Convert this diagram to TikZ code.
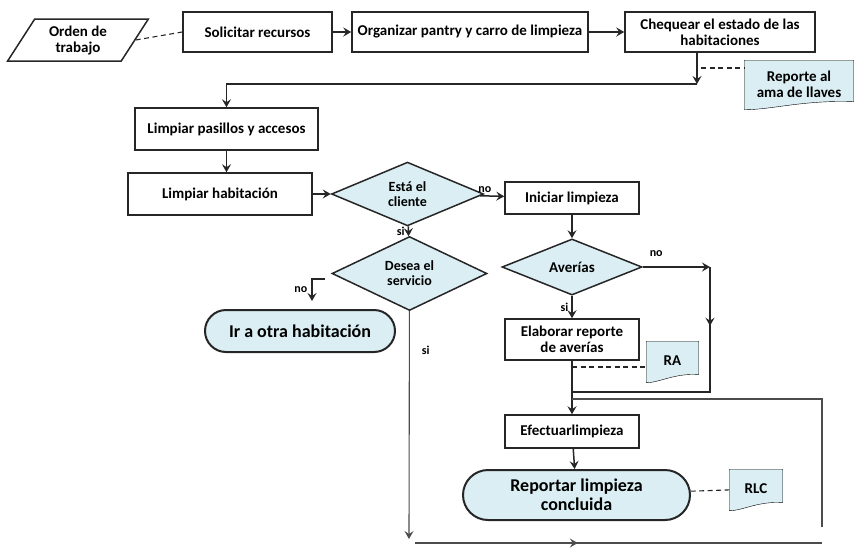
\documentclass[tikz,border=0pt]{standalone}
\usepackage{fontspec}
\setmainfont{Carlito}
\usetikzlibrary{arrows.meta, calc, shapes.geometric, shapes.misc, backgrounds}
\definecolor{aqua}{HTML}{DAEEF3}

\begin{document}
\begin{tikzpicture}[x=1pt, y=-1pt, >={Stealth[length=8pt, width=9pt, inset=3pt]},
    line width=1.5pt, draw=black!85,
    every node/.style={font=\bfseries\fontsize{15}{16}\selectfont, align=center, inner sep=0pt},
    box/.style={draw, rectangle, minimum height=40},
    cond/.style={draw, diamond, fill=aqua, minimum width=152, minimum height=56},
    term/.style={draw, rounded rectangle, fill=aqua, line width=2pt, minimum height=42},
    docu/.style={minimum width=#1},
    lbl/.style={font=\bfseries\fontsize{12}{13}\selectfont},
    dsh/.style={line width=1.1pt, dash pattern=on 5pt off 3.5pt},
    thin line/.style={line width=1.1pt, draw=black!70}]
    \useasboundingbox (0,0) rectangle (855,547);

    \node[draw, trapezium, trapezium left angle=58, trapezium right angle=122, trapezium stretches=true,
          minimum width=141, minimum height=42] (orden) at (78,40) {Orden de\\trabajo};
    \node[box, minimum width=149] (solic) at (257.5,32) {Solicitar recursos};
    \node[box, minimum width=236] (organ) at (470,32) {Organizar pantry y carro de limpieza};
    \node[box, minimum width=190] (cheq) at (720,32) {Chequear el estado de las\\habitaciones};
    \node[docu=108, minimum height=46] (rep) at (799,84) {Reporte al\\ama de llaves};

    \node[box, minimum width=183, minimum height=42] (pasil) at (226.5,129) {Limpiar pasillos y accesos};
    \node[box, minimum width=184, minimum height=42] (habit) at (220,194) {Limpiar habitación};
    \node[cond, font=\bfseries\fontsize{14}{15}\selectfont] (esta) at (407.5,194) {Está el\\cliente};
    \node[box, minimum width=134, minimum height=32] (inic) at (572,198) {Iniciar limpieza};
    \node[cond, minimum width=140] (aver) at (572,267) {Averías};
    \node[box, minimum width=134, minimum height=41] (elab) at (572,339.5) {Elaborar reporte\\de averías};
    \node[docu=51, minimum height=38] (ra) at (672.5,361) {RA};
    \node[cond, minimum width=155, font=\bfseries\fontsize{14}{15}\selectfont] (desea) at (409.5,273.5) {Desea el\\servicio};
    \node[term, minimum width=190, font=\bfseries\fontsize{18}{19}\selectfont] (otra) at (300,331) {Ir a otra habitación};
    \node[box, minimum width=134, minimum height=33] (efect) at (572,431.5) {Efectuarlimpieza};
    \node[term, minimum width=227, minimum height=50, font=\bfseries\fontsize{18}{19}\selectfont] (concl) at (576.5,495) {Reportar limpieza\\concluida};
    \node[docu=52, minimum height=38] (rlc) at (756,489) {RLC};

    \begin{scope}[on background layer]
        \foreach \d in {rep, ra, rlc}
            \draw[fill=aqua] (\d.north west) -- (\d.north east) -- ($(\d.south east)+(0,-6)$)
                .. controls ($(\d.south east)!0.45!(\d.south west)+(0,-8)$) and ($(\d.south east)!0.75!(\d.south west)+(0,2)$)
                .. ($(\d.south west)+(0,2)$) -- cycle;
    \end{scope}

    \coordinate (c1) at (697,84);
    \coordinate (d1) at (701,68);
    \coordinate (a1) at (710,267);
    \coordinate (a2) at (710,392);
    \coordinate (d2) at (572,367);
    \coordinate (n1) at (325,279);
    \coordinate (n2) at (312,301);
    \coordinate (s1) at (409,539);
    \coordinate (b1) at (415,543);
    \coordinate (b2) at (822,543);
    \coordinate (r1) at (822,527);
    \coordinate (r2) at (822,399);

    \draw[dsh] (orden.east) -- (solic.west);
    \draw[->] (solic) -- (organ);
    \draw[->] (organ) -- (cheq);
    \draw[->] (cheq.south -| c1) -- (c1);
    \draw[->] (c1) -| (pasil.north);
    \draw[dsh] (d1) -- (d1 -| rep.west);
    \draw[->] (pasil.south) -- (pasil.south |- habit.north);
    \draw[->] (habit) -- (esta);
    \draw[->] (esta) -- (inic) node[lbl, pos=0.2, above=3pt] {no};
    \draw[->] (esta) -- (desea) node[lbl, midway, left=3pt] {si};
    \draw[->] (inic) -- (aver);
    \draw[->] (aver) -- (elab) node[lbl, midway, left=3pt] {si};
    \draw[->] (aver.east) -- (a1) node[lbl, pos=0.2, above=10pt] {no};
    \draw[->] (a1) -- ($(a1)!0.47!(a2)$);
    \draw (a1) -- (a2) -- (a2 -| elab.south);
    \draw[->] (elab) -- (efect);
    \draw[dsh] (d2) -- (d2 -| ra.west);
    \draw[->] (n1) -| (n2) node[lbl, pos=0.75, left=4pt] {no};
    \draw[->, thin line] (desea) -- (s1) node[lbl, pos=0.17, right=12pt] {si};
    \draw[thin line] (b1) -- (b2);
    \draw[->, thin line] (b1) -- ($(b1)!0.4!(b2)$);
    \draw[thin line] (r1) -- (r2) -- (r2 -| efect.north);
    \draw[->] (efect) -- (concl);
    \draw[dsh] (concl) -- (rlc);
\end{tikzpicture}
\end{document}
